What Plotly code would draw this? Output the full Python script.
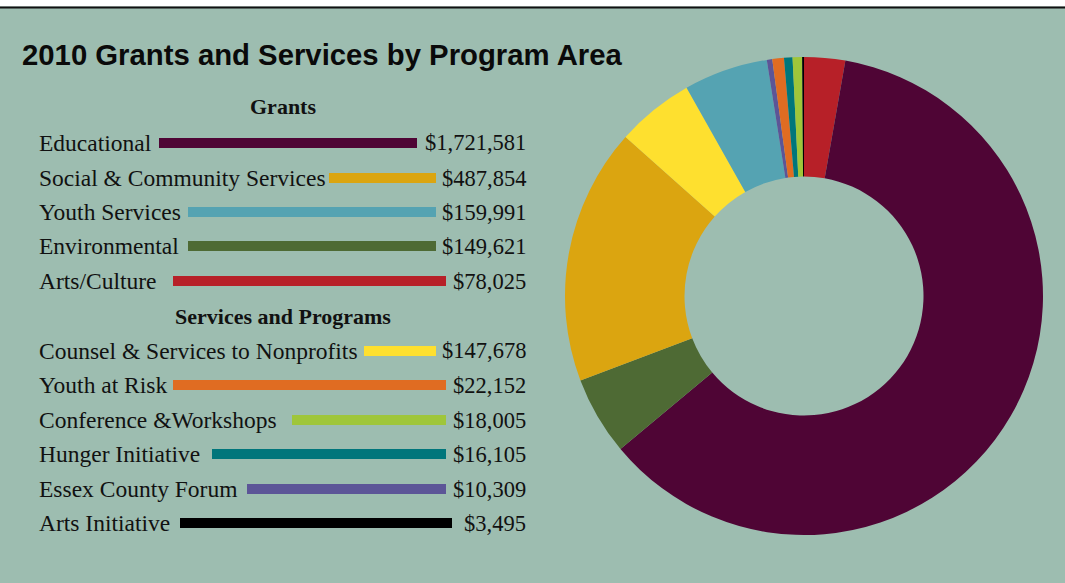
import plotly.graph_objects as go

# ---------------- data ----------------
grant_labels = ["Educational", "Social & Community Services", "Youth Services",
                "Environmental", "Arts/Culture"]
grant_values = [1721581, 487854, 159991, 149621, 78025]
service_labels = ["Counsel & Services to Nonprofits", "Youth at Risk",
                  "Conference &Workshops", "Hunger Initiative",
                  "Essex County Forum", "Arts Initiative"]
service_values = [147678, 22152, 18005, 16105, 10309, 3495]

# order of slices clockwise from 12 o'clock
pie_order = ["Arts/Culture", "Educational", "Environmental",
             "Social & Community Services", "Counsel & Services to Nonprofits",
             "Youth Services", "Essex County Forum", "Youth at Risk",
             "Hunger Initiative", "Conference &Workshops", "Arts Initiative"]

# ---------------- styles ----------------
colors = {
    "Educational": "#4f0535",
    "Social & Community Services": "#dba510",
    "Youth Services": "#55a3b2",
    "Environmental": "#4e6a34",
    "Arts/Culture": "#b72028",
    "Counsel & Services to Nonprofits": "#fee02f",
    "Youth at Risk": "#e06c22",
    "Conference &Workshops": "#9fc63a",
    "Hunger Initiative": "#00767b",
    "Essex County Forum": "#5c5597",
    "Arts Initiative": "#000000",
}
BG = "#9dbdb0"
W, H = 1065, 583

# layout positions (pixels) for the left list
row_y = [143, 178, 212, 246, 281, 351, 385, 420, 454, 489, 523]
bar_x = [(159, 417), (329, 436), (188, 436), (188, 436), (173, 446),
         (364, 436), (173, 446), (292, 446), (212, 446), (247, 446), (180, 452)]
heading_y = [107, 316]


def px(x):
    return x / W


def py(y):
    return 1 - y / H


all_labels = grant_labels + service_labels
all_values = grant_values + service_values
value_of = dict(zip(all_labels, all_values))

fig = go.Figure()
fig.add_trace(go.Pie(
    labels=pie_order,
    values=[value_of[k] for k in pie_order],
    marker=dict(colors=[colors[k] for k in pie_order], line=dict(width=0)),
    hole=0.5,
    sort=False,
    direction="clockwise",
    rotation=0,
    textinfo="none",
    showlegend=False,
    domain=dict(x=[px(565), px(1043)], y=[py(535), py(57)]),
))

annotations = []
shapes = []

annotations.append(dict(
    text="<b>2010 Grants and Services by Program Area</b>",
    x=px(20), y=py(55), xref="paper", yref="paper",
    xanchor="left", yanchor="middle", showarrow=False,
    font=dict(family="Liberation Sans, Arial, sans-serif", size=29.3, color="#0a0a0a"),
))
for txt, yy in zip(["Grants", "Services and Programs"], heading_y):
    annotations.append(dict(
        text="<b>%s</b>" % txt, x=px(283), y=py(yy), xref="paper", yref="paper",
        xanchor="center", yanchor="middle", showarrow=False,
        font=dict(family="Liberation Serif, Times New Roman, serif", size=22, color="#111111"),
    ))

for lab, val, yy, (x0, x1) in zip(all_labels, all_values, row_y, bar_x):
    annotations.append(dict(
        text=lab, x=px(37), y=py(yy), xref="paper", yref="paper",
        xanchor="left", yanchor="middle", showarrow=False,
        font=dict(family="Liberation Serif, Times New Roman, serif", size=23.5, color="#111111"),
    ))
    annotations.append(dict(
        text="${:,}".format(val), x=px(528), y=py(yy), xref="paper", yref="paper",
        xanchor="right", yanchor="middle", showarrow=False,
        font=dict(family="Liberation Serif, Times New Roman, serif", size=22.5, color="#111111"),
    ))
    shapes.append(dict(
        type="rect", xref="paper", yref="paper",
        x0=px(x0), x1=px(x1), y0=py(yy + 5), y1=py(yy - 5),
        fillcolor=colors[lab], line=dict(width=0),
    ))

# top white strip and black rule
shapes.append(dict(type="rect", xref="paper", yref="paper", x0=0, x1=1,
                   y0=py(6.5), y1=1, fillcolor="white", line=dict(width=0)))
shapes.append(dict(type="rect", xref="paper", yref="paper", x0=0, x1=1,
                   y0=py(8.5), y1=py(6.5), fillcolor="#111111", line=dict(width=0)))

fig.update_layout(
    width=W, height=H,
    margin=dict(l=0, r=0, t=0, b=0),
    paper_bgcolor=BG, plot_bgcolor=BG,
    annotations=annotations,
    shapes=shapes,
)

fig.write_html(
    "out.html",
    config={"displayModeBar": False},
    post_script="document.body.style.margin='0';document.body.style.overflow='hidden';",
)
